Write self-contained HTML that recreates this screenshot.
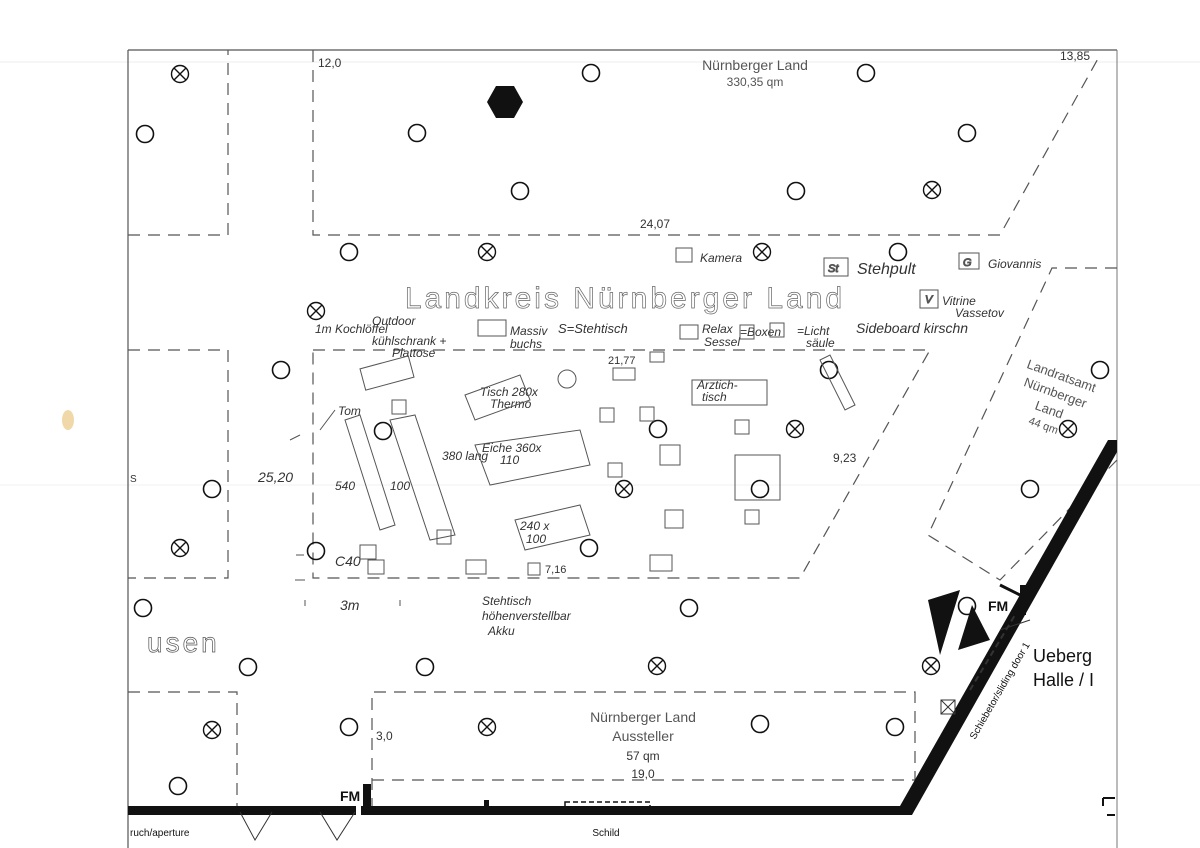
<!DOCTYPE html>
<html><head><meta charset="utf-8"><style>
html,body{margin:0;padding:0;background:#fff;}
svg{display:block}
text{font-family:"Liberation Sans",sans-serif;fill:#333}
.h{font-family:"Liberation Sans",sans-serif;fill:#444;font-style:italic}
</style></head><body>
<svg width="1200" height="848" viewBox="0 0 1200 848" xmlns="http://www.w3.org/2000/svg">
<rect width="1200" height="848" fill="#fff"/>
<line x1="0" y1="62" x2="1200" y2="62" stroke="#eee" stroke-width="1"/>
<line x1="0" y1="485" x2="1200" y2="485" stroke="#f2f2f2" stroke-width="1"/>
<ellipse cx="68" cy="420" rx="6" ry="10" fill="#f0d8a8"/>
<!-- frame -->
<line x1="128" y1="50" x2="1117" y2="50" stroke="#555" stroke-width="1.2"/>
<line x1="128" y1="50" x2="128" y2="848" stroke="#555" stroke-width="1.2"/>
<line x1="1117" y1="50" x2="1117" y2="848" stroke="#777" stroke-width="1"/>
<g fill="none" stroke="#555" stroke-width="1.2" stroke-dasharray="12,8">
<polyline points="128,235 228,235 228,50"/>
<polyline points="313,50 313,235 1000,235 1100,55"/>
<polygon points="313,350 930,350 800,578 313,578"/>
<polyline points="128,350 228,350 228,578 128,578"/>
<polyline points="128,692 237,692 237,810"/>
<polyline points="372,810 372,692 915,692 915,780 372,780"/>
<polyline points="1117,268 1052,268 928,535 1000,580 1117,460"/>
</g>
<!-- walls -->
<g fill="#111">
<rect x="128" y="806" width="228" height="9"/>
<rect x="361" y="806" width="545" height="9"/>
<rect x="363" y="784" width="8" height="28"/>
<polygon points="900,806 1108,440 1117,440 1117,452 912,815 900,815"/>
<rect x="1020" y="585" width="6" height="30"/>
<polygon points="928,600 960,590 940,655"/>
<polygon points="958,650 990,640 972,605"/>
</g>
<line x1="1000" y1="585" x2="1020" y2="595" stroke="#111" stroke-width="3"/>
<line x1="1103" y1="798" x2="1115" y2="798" stroke="#111" stroke-width="2"/>
<line x1="1103" y1="798" x2="1103" y2="806" stroke="#111" stroke-width="2"/>
<line x1="1107" y1="815" x2="1115" y2="815" stroke="#111" stroke-width="2"/>
<rect x="565" y="802" width="85" height="5" fill="none" stroke="#111" stroke-width="1.5" stroke-dasharray="5,3"/>
<rect x="484" y="800" width="5" height="8" fill="#111"/>
<g stroke="#333" fill="none">
<polyline points="240,812 255,840 272,812"/>
<polyline points="320,812 337,840 355,812"/>
<line x1="1000" y1="630" x2="1030" y2="620"/>
<line x1="970" y1="690" x2="1015" y2="615" stroke-dasharray="6,4" stroke-width="2"/>
<rect x="941" y="700" width="14" height="14"/>
<line x1="941" y1="700" x2="955" y2="714"/><line x1="955" y1="700" x2="941" y2="714"/>
</g>
<!-- hexagon -->
<polygon points="487,102 496,86 514,86 523,102 514,118 496,118" fill="#111"/>
<!-- circles -->
<g fill="none" stroke="#111" stroke-width="1.6">
<circle cx="591" cy="73" r="8.5"/><circle cx="866" cy="73" r="8.5"/><circle cx="145" cy="134" r="8.5"/>
<circle cx="417" cy="133" r="8.5"/><circle cx="967" cy="133" r="8.5"/><circle cx="520" cy="191" r="8.5"/>
<circle cx="796" cy="191" r="8.5"/><circle cx="349" cy="252" r="8.5"/><circle cx="898" cy="252" r="8.5"/>
<circle cx="281" cy="370" r="8.5"/><circle cx="829" cy="370" r="8.5"/><circle cx="1100" cy="370" r="8.5"/>
<circle cx="383" cy="431" r="8.5"/><circle cx="658" cy="429" r="8.5"/><circle cx="212" cy="489" r="8.5"/>
<circle cx="760" cy="489" r="8.5"/><circle cx="1030" cy="489" r="8.5"/><circle cx="316" cy="551" r="8.5"/>
<circle cx="589" cy="548" r="8.5"/><circle cx="143" cy="608" r="8.5"/><circle cx="689" cy="608" r="8.5"/>
<circle cx="967" cy="606" r="8.5"/><circle cx="248" cy="667" r="8.5"/><circle cx="425" cy="667" r="8.5"/>
<circle cx="349" cy="727" r="8.5"/><circle cx="760" cy="724" r="8.5"/><circle cx="895" cy="727" r="8.5"/>
<circle cx="178" cy="786" r="8.5"/>
</g>
<g fill="none" stroke="#111" stroke-width="1.4">
<circle cx="180" cy="74" r="8.5"/><path d="M174,68l12,12M186,68l-12,12"/>
<circle cx="487" cy="252" r="8.5"/><path d="M481,246l12,12M493,246l-12,12"/>
<circle cx="762" cy="252" r="8.5"/><path d="M756,246l12,12M768,246l-12,12"/>
<circle cx="316" cy="311" r="8.5"/><path d="M310,305l12,12M322,305l-12,12"/>
<circle cx="932" cy="190" r="8.5"/><path d="M926,184l12,12M938,184l-12,12"/>
<circle cx="795" cy="429" r="8.5"/><path d="M789,423l12,12M801,423l-12,12"/>
<circle cx="1068" cy="429" r="8.5"/><path d="M1062,423l12,12M1074,423l-12,12"/>
<circle cx="624" cy="489" r="8.5"/><path d="M618,483l12,12M630,483l-12,12"/>
<circle cx="180" cy="548" r="8.5"/><path d="M174,542l12,12M186,542l-12,12"/>
<circle cx="657" cy="666" r="8.5"/><path d="M651,660l12,12M663,660l-12,12"/>
<circle cx="487" cy="727" r="8.5"/><path d="M481,721l12,12M493,721l-12,12"/>
<circle cx="212" cy="730" r="8.5"/><path d="M206,724l12,12M218,724l-12,12"/>
<circle cx="931" cy="666" r="8.5"/><path d="M925,660l12,12M937,660l-12,12"/>
</g>
<!-- printed text -->
<text x="755" y="70" font-size="14" text-anchor="middle" style="fill:#555">Nürnberger Land</text>
<text x="755" y="86" font-size="12" text-anchor="middle" style="fill:#555">330,35 qm</text>
<text x="318" y="67" font-size="12">12,0</text>
<text x="1060" y="60" font-size="12">13,85</text>
<text x="655" y="228" font-size="12" text-anchor="middle">24,07</text>
<text x="625" y="308" font-size="30" text-anchor="middle" letter-spacing="3" style="fill:none;stroke:#666;stroke-width:0.7">Landkreis Nürnberger Land</text>
<text x="643" y="722" font-size="14" text-anchor="middle" style="fill:#555">Nürnberger Land</text>
<text x="643" y="741" font-size="14" text-anchor="middle" style="fill:#555">Aussteller</text>
<text x="643" y="760" font-size="12" text-anchor="middle">57 qm</text>
<text x="643" y="778" font-size="12" text-anchor="middle">19,0</text>
<text x="376" y="740" font-size="12">3,0</text>
<text x="340" y="801" font-size="14" font-weight="bold" style="fill:#111">FM</text>
<text x="988" y="611" font-size="14" font-weight="bold" style="fill:#111">FM</text>
<text x="1033" y="662" font-size="18" style="fill:#111">Ueberg</text>
<text x="1033" y="686" font-size="18" style="fill:#111">Halle / I</text>
<text x="147" y="652" font-size="28" letter-spacing="3" style="fill:none;stroke:#555;stroke-width:0.7">usen</text>
<text x="606" y="836" font-size="10" text-anchor="middle" style="fill:#111">Schild</text>
<text x="130" y="836" font-size="10" style="fill:#111">ruch/aperture</text>
<text x="130" y="482" font-size="10">S</text>
<text font-size="10" style="fill:#111" transform="translate(975,740) rotate(-60)">Schiebetor/sliding door 1</text>
<g transform="translate(1060,380) rotate(20)" font-size="13">
<text x="0" y="0" text-anchor="middle" style="fill:#555">Landratsamt</text>
<text x="0" y="18" text-anchor="middle" style="fill:#555">Nürnberger</text>
<text x="0" y="36" text-anchor="middle" style="fill:#555">Land</text>
<text x="0" y="52" font-size="11" text-anchor="middle" style="fill:#555">44 qm</text>
</g>
<text x="833" y="462" font-size="12">9,23</text>
<text x="608" y="364" font-size="11">21,77</text>
<text x="545" y="573" font-size="11">7,16</text>
<!-- handwritten notes -->
<g class="h" font-size="12">
<text x="700" y="262">Kamera</text>
<text x="857" y="274" font-size="16">Stehpult</text>
<text x="988" y="268">Giovannis</text>
<text x="942" y="305">Vitrine</text><text x="955" y="317">Vassetov</text>
<text x="856" y="333" font-size="14">Sideboard kirschn</text>
<text x="315" y="333">1m Kochlöffel</text>
<text x="372" y="325">Outdoor</text><text x="372" y="345">kühlschrank +</text><text x="392" y="357">Plattose</text>
<text x="510" y="335">Massiv</text><text x="510" y="348">buchs</text>
<text x="558" y="333" font-size="13">S=Stehtisch</text>
<text x="702" y="333">Relax</text><text x="704" y="346">Sessel</text>
<text x="740" y="336">=Boxen</text>
<text x="797" y="335">=Licht</text><text x="806" y="347">säule</text>
<text x="258" y="482" font-size="14">25,20</text>
<text x="335" y="490">540</text>
<text x="390" y="490">100</text>
<text x="442" y="460">380 lang</text>
<text x="480" y="396">Tisch 280x</text><text x="490" y="408">Thermo</text>
<text x="482" y="452">Eiche 360x</text><text x="500" y="464">110</text>
<text x="520" y="530">240 x</text><text x="526" y="543">100</text>
<text x="697" y="389">Arztich-</text><text x="702" y="401">tisch</text>
<text x="335" y="566" font-size="14">C40</text>
<text x="340" y="610" font-size="14">3m</text>
<text x="482" y="605">Stehtisch</text><text x="482" y="620">höhenverstellbar</text><text x="488" y="635">Akku</text>
<text x="338" y="415">Tom</text>
</g>
<!-- hand-drawn furniture -->
<g fill="none" stroke="#555" stroke-width="1">
<rect x="676" y="248" width="16" height="14"/>
<rect x="824" y="258" width="24" height="18"/><text x="828" y="272" font-size="11" class="h">St</text>
<rect x="959" y="253" width="20" height="16"/><text x="963" y="266" font-size="11" class="h">G</text>
<rect x="920" y="290" width="18" height="18"/><text x="925" y="303" font-size="11" class="h">V</text>
<rect x="478" y="320" width="28" height="16"/><rect x="680" y="325" width="18" height="14"/>
<rect x="740" y="325" width="14" height="14"/><rect x="770" y="323" width="14" height="14"/>
<rect x="362" y="362" width="50" height="22" transform="rotate(-15 387 373)"/>
<polygon points="465,395 520,375 530,400 475,420"/>
<polygon points="475,445 580,430 590,465 490,485"/>
<polygon points="515,520 580,505 590,535 525,550"/>
<polygon points="390,420 415,415 455,535 430,540"/>
<polygon points="345,420 360,415 395,525 380,530"/>
<rect x="692" y="380" width="75" height="25"/>
<rect x="735" y="455" width="45" height="45"/>
<polygon points="820,360 830,355 855,405 845,410"/>
<circle cx="567" cy="379" r="9"/>
<rect x="600" y="408" width="14" height="14"/><rect x="640" y="407" width="14" height="14"/>
<rect x="608" y="463" width="14" height="14"/><rect x="660" y="445" width="20" height="20"/>
<rect x="665" y="510" width="18" height="18"/><rect x="650" y="555" width="22" height="16"/>
<rect x="466" y="560" width="20" height="14"/><rect x="528" y="563" width="12" height="12"/>
<rect x="613" y="368" width="22" height="12"/><rect x="650" y="352" width="14" height="10"/>
<rect x="745" y="510" width="14" height="14"/><rect x="735" y="420" width="14" height="14"/>
<rect x="392" y="400" width="14" height="14"/><rect x="437" y="530" width="14" height="14"/>
<rect x="360" y="545" width="16" height="14"/><rect x="368" y="560" width="16" height="14"/>
<path d="M290,440l10,-5M296,555l8,0M295,580l10,0M305,600l0,6M400,600l0,6"/>
<path d="M320,430l15,-20"/>
</g>
</svg>
</body></html>
